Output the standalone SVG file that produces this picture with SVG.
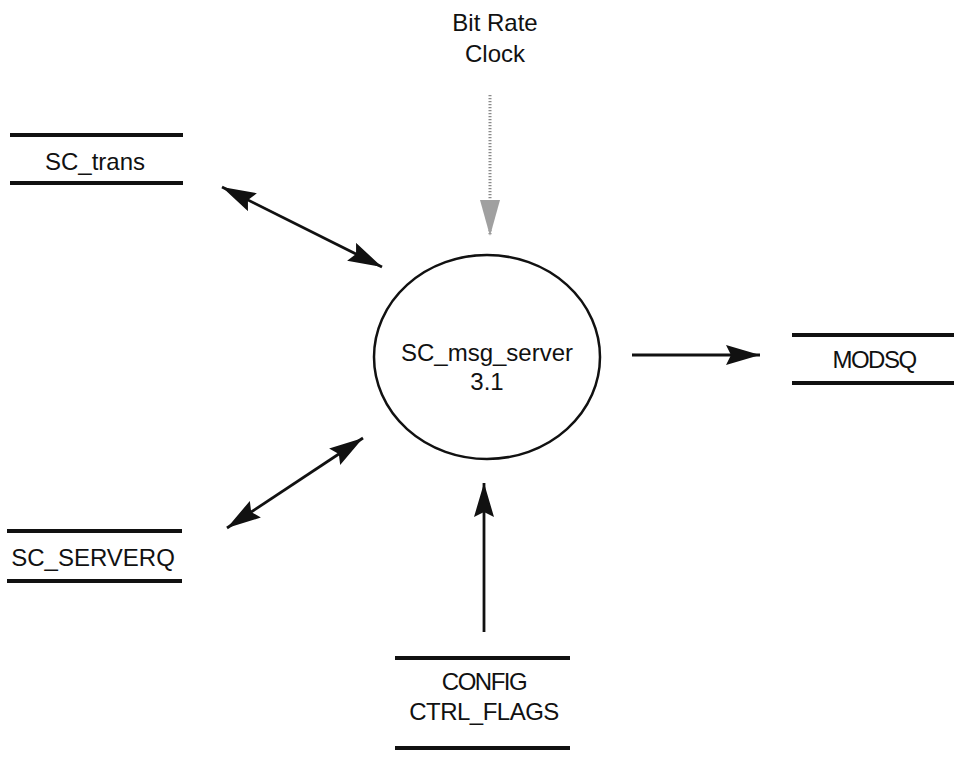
<svg xmlns="http://www.w3.org/2000/svg" width="961" height="757" viewBox="0 0 961 757">
<style>
.t{font-family:"Liberation Sans",Arial,sans-serif;font-size:24px;fill:#111;text-anchor:middle}
.bar{stroke:#111;stroke-width:4}
.flow{stroke:#111;stroke-width:2.8;fill:none}
.clk{stroke:#8a8a8a;stroke-width:3;stroke-dasharray:1.2 1.8;fill:none}
.bubble{fill:none;stroke:#111;stroke-width:2.5}
</style>
<defs>
<marker id="ah" markerUnits="userSpaceOnUse" markerWidth="36" markerHeight="22" refX="34" refY="10" orient="auto-start-reverse">
<path d="M0,0 L34,10 L0,20 L5,10 z" fill="#111"/>
</marker>
<marker id="ahg" markerUnits="userSpaceOnUse" markerWidth="36" markerHeight="22" refX="36" refY="11" orient="auto">
<path d="M0,1 L36,11 L0,21 z" fill="#a0a0a0"/>
</marker>
</defs>
<rect width="961" height="757" fill="#fff"/>
<g id="connectors">
<line class="flow" x1="222" y1="187" x2="382" y2="267" marker-start="url(#ah)" marker-end="url(#ah)"/>
<line class="flow" x1="227" y1="528" x2="363" y2="438" marker-start="url(#ah)" marker-end="url(#ah)"/>
<line class="flow" x1="632" y1="355" x2="760" y2="355" marker-end="url(#ah)"/>
<line class="flow" x1="484" y1="632" x2="484" y2="483" marker-end="url(#ah)"/>
<line class="clk" x1="490" y1="95" x2="490" y2="236" marker-end="url(#ahg)"/>
</g>
<g id="clock">
<text class="t" x="495" y="31">Bit Rate</text>
<text class="t" x="495" y="62">Clock</text>
</g>
<g id="SC_msg_server">
<ellipse class="bubble" cx="487" cy="357" rx="113" ry="102"/>
<text class="t" x="487" y="361">SC_msg_server</text>
<text class="t" x="487" y="390">3.1</text>
</g>
<g id="SC_trans">
<line class="bar" x1="10" y1="135" x2="183" y2="135"/>
<line class="bar" x1="10" y1="183" x2="183" y2="183"/>
<text class="t" x="95" y="170">SC_trans</text>
</g>
<g id="SC_SERVERQ">
<line class="bar" x1="7" y1="531" x2="182" y2="531"/>
<line class="bar" x1="7" y1="581" x2="182" y2="581"/>
<text class="t" x="93" y="566">SC_SERVERQ</text>
</g>
<g id="MODSQ">
<line class="bar" x1="792" y1="335" x2="954" y2="335"/>
<line class="bar" x1="792" y1="383" x2="954" y2="383"/>
<text class="t" x="874" y="368" letter-spacing="-1.5">MODSQ</text>
</g>
<g id="CONFIG">
<line class="bar" x1="395" y1="658" x2="570" y2="658"/>
<line class="bar" x1="395" y1="748" x2="570" y2="748"/>
<text class="t" x="484" y="690" letter-spacing="-1.5">CONFIG</text>
<text class="t" x="484" y="720" letter-spacing="-0.5">CTRL_FLAGS</text>
</g>
</svg>
